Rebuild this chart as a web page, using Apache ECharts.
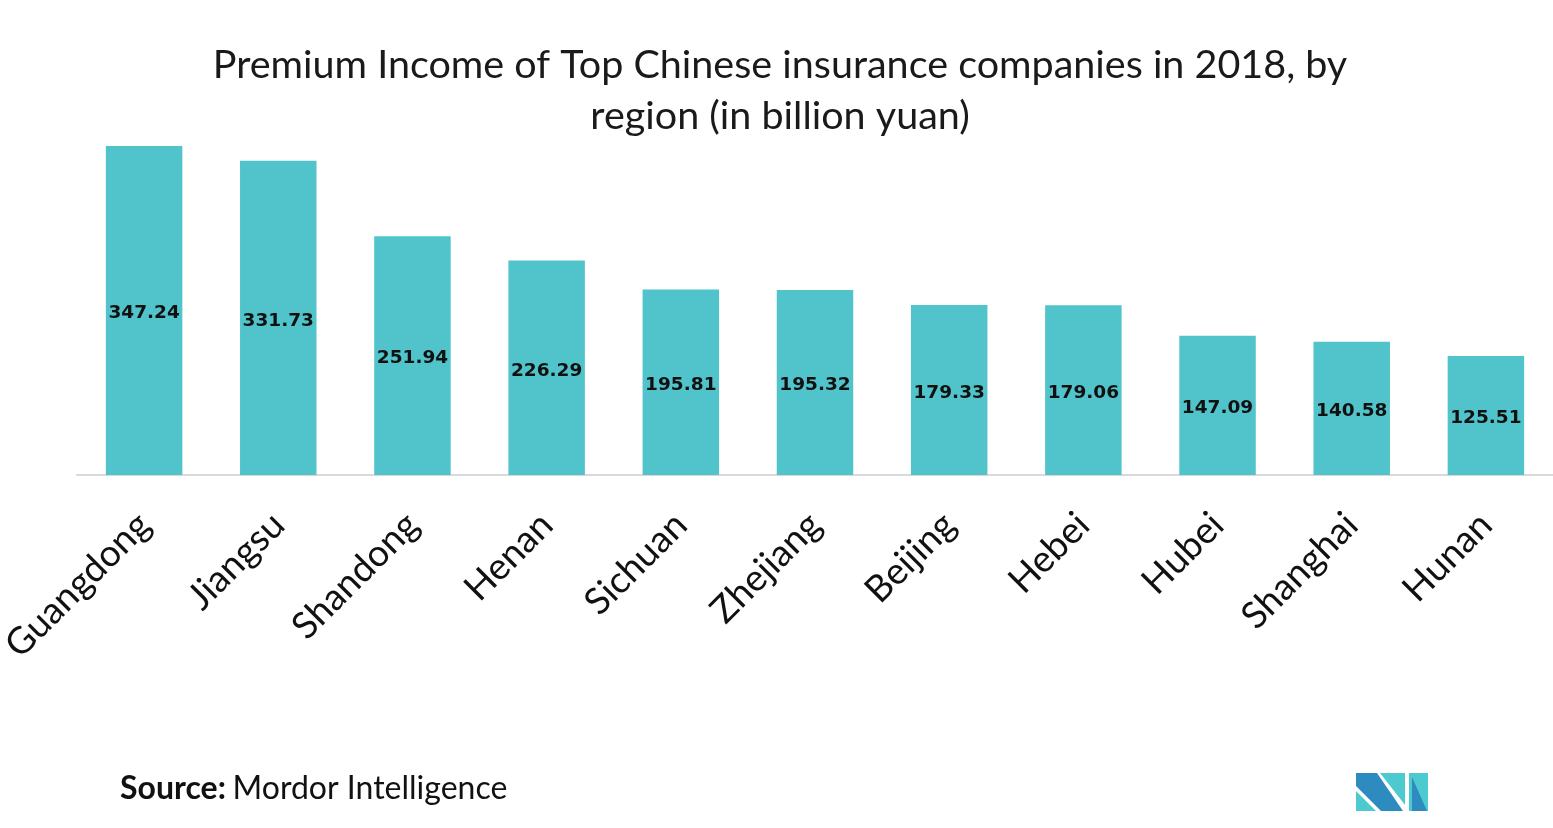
<!DOCTYPE html>
<html>
<head>
<meta charset="utf-8">
<script src="https://cdn.jsdelivr.net/npm/echarts@6/dist/echarts.min.js"></script>
<style>
html,body{margin:0;padding:0;background:#fff;}
#chart{width:1553px;height:828px;}
</style>
</head>
<body>
<div id="chart"></div>
<script>
const categories = ['Guangdong','Jiangsu','Shandong','Henan','Sichuan','Zhejiang','Beijing','Hebei','Hubei','Shanghai','Hunan'];
const values = [347.24,331.73,251.94,226.29,195.81,195.32,179.33,179.06,147.09,140.58,125.51];
const titleText = 'Premium Income of Top Chinese insurance companies in 2018, by\nregion (in billion yuan)';

const chart = echarts.init(document.getElementById('chart'));
const dark = '#2E8BC0', teal = '#4DC9D0';
chart.setOption({
  animation: false,
  backgroundColor: '#fff',
  title: {
    text: titleText,
    left: 775, top: 35, textAlign: 'center',
    textStyle: {fontFamily: 'Lato', fontWeight: 'normal', fontSize: 39.5, lineHeight: 51, color: '#1a1a1a'}
  },
  grid: {left: 77, right: 0, top: 96, bottom: 353, containLabel: false, outerBoundsMode: 'none'},
  xAxis: {
    type: 'category', data: categories,
    axisLine: {show: true, lineStyle: {color: '#d9d9d9', width: 2}},
    axisTick: {show: false},
    axisLabel: {rotate: 45, margin: 44, interval: 0, fontFamily: 'Lato', fontSize: 37, color: '#111'}
  },
  yAxis: {type: 'value', min: 0, max: 400, show: false, splitLine: {show: false}},
  series: [{
    type: 'bar', data: values, barCategoryGap: '43%',
    itemStyle: {color: '#51C4CB'},
    label: {show: true, position: 'inside', offset: [0, 3], fontFamily: 'DejaVu Sans', fontWeight: 'bold', fontSize: 18.5, color: '#111',
      formatter: p => p.value.toFixed(2)}
  }],
  graphic: [
    {type: 'text', left: 120, top: 773, style: {
      text: '{b|Source:}  {r|Mordor Intelligence}',
      rich: {
        b: {fontFamily: 'Lato', fontWeight: 'bold', fontSize: 32, fill: '#111'},
        r: {fontFamily: 'Lato', fontSize: 32, fill: '#111'}
      }}},
    {type: 'polygon', shape: {points: [[1356,773],[1377,773],[1403,811],[1381,811],[1356,786]]}, style: {fill: dark}},
    {type: 'polygon', shape: {points: [[1356,791],[1356,811],[1376,811]]}, style: {fill: teal}},
    {type: 'polygon', shape: {points: [[1380,773],[1405,773],[1405,805]]}, style: {fill: teal}},
    {type: 'polygon', shape: {points: [[1409,773],[1428,773],[1428,811],[1409,811]]}, style: {fill: teal}},
    {type: 'polygon', shape: {points: [[1412,777],[1427,811],[1412,811]]}, style: {fill: dark}}
  ]
});
</script>
</body>
</html>
